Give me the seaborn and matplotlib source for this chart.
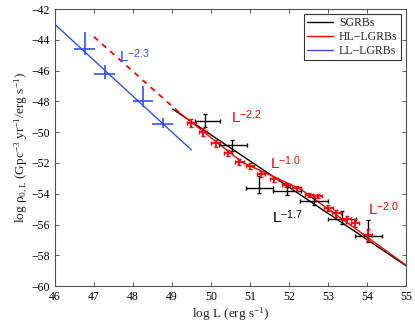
import numpy as np
import pandas as pd
import seaborn as sns
import matplotlib
matplotlib.use("Agg")
import matplotlib.pyplot as plt

# ---- data ----
# LL-LGRBs (blue)
ll_x = [46.77, 47.28, 48.25, 48.76]
ll_y = [-44.6, -46.2, -48.0, -49.45]
ll_xlo = [0.28, 0.28, 0.26, 0.28]
ll_xhi = [0.26, 0.26, 0.27, 0.26]
ll_ylo = [0.40, 0.35, 0.35, 0.30]
ll_yhi = [1.10, 0.56, 1.00, 0.35]

# SGRBs (black)
sg_x = [49.86, 50.53, 51.24, 51.96, 52.64, 53.35, 54.03]
sg_y = [-49.3, -50.8, -53.65, -53.85, -54.45, -55.65, -56.75]
sg_xlo = [0.27, 0.32, 0.34, 0.36, 0.36, 0.35, 0.34]
sg_xhi = [0.37, 0.40, 0.34, 0.34, 0.36, 0.37, 0.37]
sg_ylo = [0.35, 0.40, 0.32, 0.20, 0.25, 0.30, 0.37]
sg_yhi = [0.50, 0.30, 0.80, 0.30, 0.20, 0.55, 1.05]

# HL-LGRBs (red)
hl_x = [49.5, 49.8, 50.12, 50.44, 50.73, 51.0, 51.28, 51.62, 51.92,
        52.2, 52.52, 52.75, 53.01, 53.22, 53.48, 53.69, 54.02]
hl_y = [-49.4, -49.97, -50.73, -51.34, -51.95, -52.2, -52.72, -53.07, -53.44,
        -53.65, -54.09, -54.15, -54.95, -55.28, -55.67, -55.92, -56.7]
hl_xerr = [0.11] * 17
hl_yerr = [0.25, 0.25, 0.25, 0.2, 0.2, 0.2, 0.2, 0.15, 0.15,
           0.15, 0.15, 0.15, 0.2, 0.2, 0.25, 0.25, 0.4]

# fitted lines
ll_line_x = [46.0, 49.5]
ll_line_y = [-43.0, -51.16]
sg_line_x = [49.02, 55.0]
sg_line_y = [-48.5, -58.67]
hl_line_x = [49.2, 50.8, 52.3, 55.0]
hl_line_y = [-48.75, -51.95, -53.7, -58.63]
hl_dash_x = [47.0, 49.2]
hl_dash_y = [-43.8, -48.75]

# slope annotations
slope_text = ["-2.3", "-2.2", "-1.0", "-1.7", "-2.0"]
slope_x = [47.64, 50.51, 51.51, 51.56, 54.02]
slope_y = [-45.45, -49.4, -52.42, -55.93, -55.4]
slope_col = ["#3050ff", "red", "red", "black", "red"]

# ---- style ----
sns.set_style("ticks")
plt.rcParams["font.family"] = ["Liberation Serif", "DejaVu Serif"]
plt.rcParams["mathtext.fontset"] = "custom"
plt.rcParams["mathtext.rm"] = "Liberation Serif"
plt.rcParams["mathtext.it"] = "Liberation Serif:italic"
plt.rcParams["mathtext.sf"] = "Liberation Sans"

fig = plt.figure(figsize=(4.15, 3.24), dpi=100)
ax = fig.add_axes([0.1325, 0.117, 0.8455, 0.855])

blue = "#3050ff"

sns.lineplot(x=ll_line_x, y=ll_line_y, ax=ax, color=blue, lw=1.0, sort=False)
sns.lineplot(x=sg_line_x, y=sg_line_y, ax=ax, color="black", lw=1.0, sort=False)
sns.lineplot(x=hl_line_x, y=hl_line_y, ax=ax, color="red", lw=1.0, sort=False)
sns.lineplot(x=hl_dash_x, y=hl_dash_y, ax=ax, color="red", lw=1.3,
             linestyle=(0, (3, 3)), sort=False)

ax.errorbar(ll_x, ll_y, xerr=[ll_xlo, ll_xhi], yerr=[ll_ylo, ll_yhi],
            fmt="none", ecolor=blue, elinewidth=1.2, capsize=0)
ax.errorbar(sg_x, sg_y, xerr=[sg_xlo, sg_xhi], yerr=[sg_ylo, sg_yhi],
            fmt="none", ecolor="black", elinewidth=1.0, capsize=1.5)
ax.errorbar(hl_x, hl_y, xerr=hl_xerr, yerr=hl_yerr,
            fmt="none", ecolor="red", elinewidth=1.3, capsize=1.5)

for t, x, y, c in zip(slope_text, slope_x, slope_y, slope_col):
    ax.text(x, y, r"$\mathsf{L}^{\mathsf{" + t.replace("-", "\u2212") + "}}$",
            color=c, fontsize=11, ha="left", va="baseline")

# legend from proxy lines
ax.plot([], [], color="black", lw=1.0, label="SGRBs")
ax.plot([], [], color="red", lw=1.0, label="HL\u2212LGRBs")
ax.plot([], [], color=blue, lw=1.0, label="LL\u2212LGRBs")
leg = ax.legend(loc="upper right", fontsize=8.5, frameon=True, fancybox=False,
                edgecolor="black", handlelength=2.2, borderpad=0.3,
                labelspacing=0.15, handletextpad=0.5, borderaxespad=0.4)
leg.get_frame().set_linewidth(0.8)

ax.set_xlim(46, 55)
ax.set_ylim(-60, -42)
ax.set_xticks(np.arange(46, 56, 1))
ax.set_yticks(np.arange(-60, -41, 2))
ax.tick_params(direction="in", top=True, right=True, labelsize=8.5,
               length=3, width=0.6, colors="#404040", labelcolor="black")
for s in ax.spines.values():
    s.set_color("#505050")
    s.set_linewidth(0.8)

ax.set_xlabel(r"log L (erg s$^{-1}$)", fontsize=9.5, labelpad=2)
ax.set_ylabel(r"log $\mathrm{\rho}_{0,\mathrm{L}}$ (Gpc$^{-3}$ yr$^{-1}$/erg s$^{-1}$)",
              fontsize=9.5, labelpad=2)

fig.savefig("out.png", dpi=100)
